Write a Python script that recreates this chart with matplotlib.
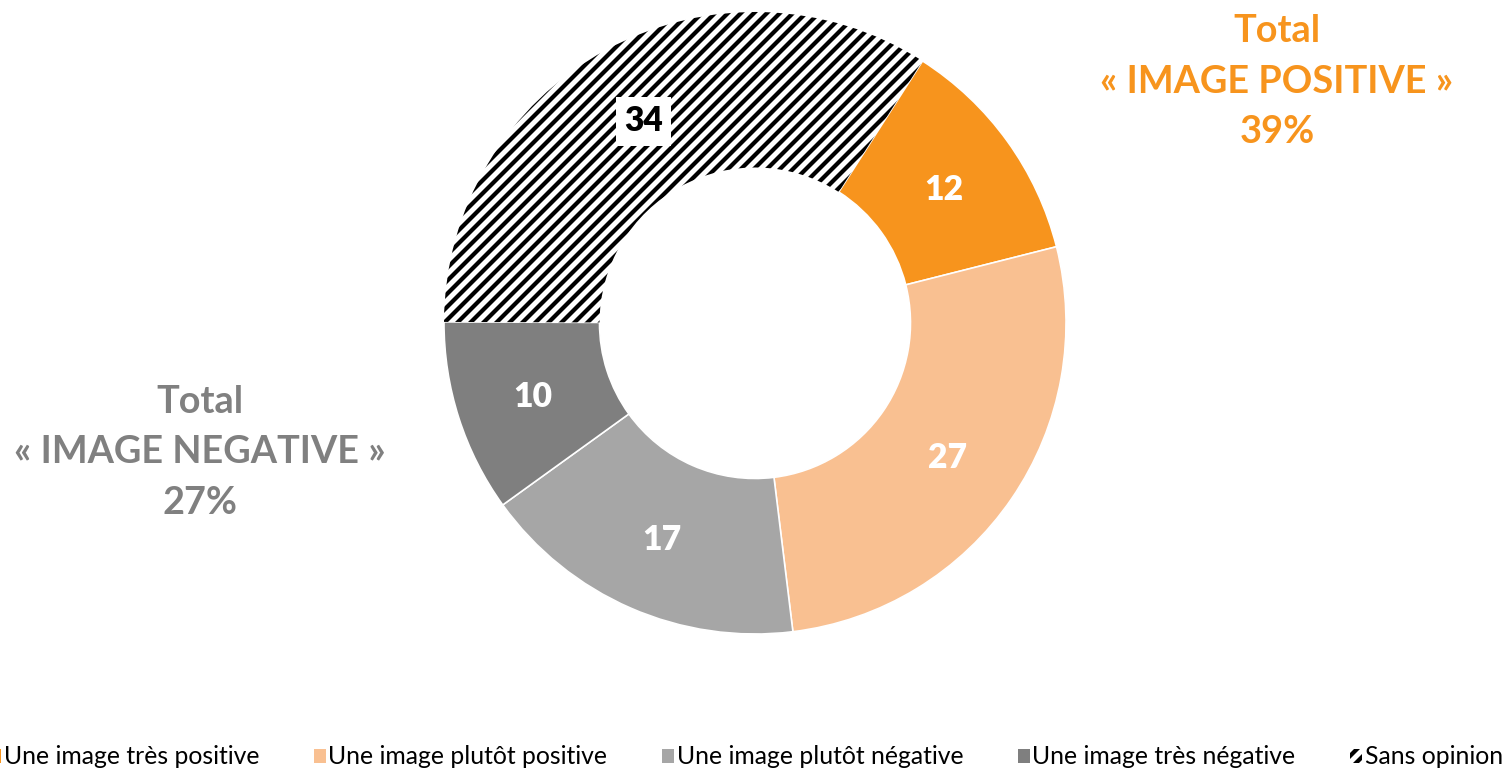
import matplotlib
matplotlib.use("Agg")
import matplotlib.pyplot as plt
from matplotlib.patches import Patch
import numpy as np

plt.rcParams['font.family'] = ['Lato', 'DejaVu Sans']
plt.rcParams['hatch.linewidth'] = 3.9

# Data
categories = ["Une image très positive", "Une image plutôt positive",
              "Une image plutôt négative", "Une image très négative",
              "Sans opinion"]
values = [12, 27, 17, 10, 34]
colors = ["#F7941D", "#F9C091", "#A6A6A6", "#7F7F7F", "white"]
total_pos = ["Total", "« IMAGE POSITIVE »", "39%"]
total_neg = ["Total", "« IMAGE NEGATIVE »", "27%"]

W, H, DPI = 1505, 771, 78
fig = plt.figure(figsize=(W / DPI, H / DPI), dpi=DPI)
cx, cy, r = 755, 323, 311
ax = fig.add_axes([(cx - r) / W, (H - cy - r) / H, 2 * r / W, 2 * r / H])

start = 57.4
wedges, _ = ax.pie(values, colors=colors, startangle=start, counterclock=False,
                   radius=1, wedgeprops=dict(width=0.5, edgecolor="white", linewidth=1.5))
# hatched "Sans opinion" slice
wedges[-1].set_edgecolor("black")
wedges[-1].set_linewidth(0)
wedges[-1].set_hatch("//")
ax.set_xlim(-1, 1)
ax.set_ylim(-1, 1)
ax.axis("off")

# value labels at the middle of each ring slice
a0 = start
for i, v in enumerate(values):
    mid = np.radians(a0 - v * 3.6 / 2)
    a0 -= v * 3.6
    x, y = 0.75 * np.cos(mid), 0.75 * np.sin(mid)
    if i == len(values) - 1:
        ax.text(x, y, str(v), ha="center", va="center_baseline", fontsize=31,
                fontweight="heavy", color="black",
                bbox=dict(boxstyle="square,pad=0.25", fc="white", ec="none"))
    else:
        ax.text(x, y, str(v), ha="center", va="center_baseline", fontsize=31,
                fontweight="heavy", color="white")

# totals, one line at a time (baselines)
for line, yb in zip(total_pos, [42, 93, 143]):
    fig.text(1277 / W, 1 - yb / H, line, ha="center", va="baseline", fontsize=35,
             fontweight="bold", color="#F7941D")
for line, yb in zip(total_neg, [413, 463, 514]):
    fig.text(200 / W, 1 - yb / H, line, ha="center", va="baseline", fontsize=35,
             fontweight="bold", color="#808080")

handles = [Patch(facecolor=c, edgecolor="none") for c in colors[:-1]]
handles.append(Patch(facecolor="white", edgecolor="black", hatch="//", linewidth=0))
fig.legend(handles, categories, ncol=5, loc="center left",
           bbox_to_anchor=(-11 / W, 1 - 757 / H), frameon=False, fontsize=22.8,
           handlelength=0.5, handleheight=0.5, handletextpad=0.1, columnspacing=2.2,
           borderpad=0, borderaxespad=0)

fig.savefig("out.png", dpi=DPI)
